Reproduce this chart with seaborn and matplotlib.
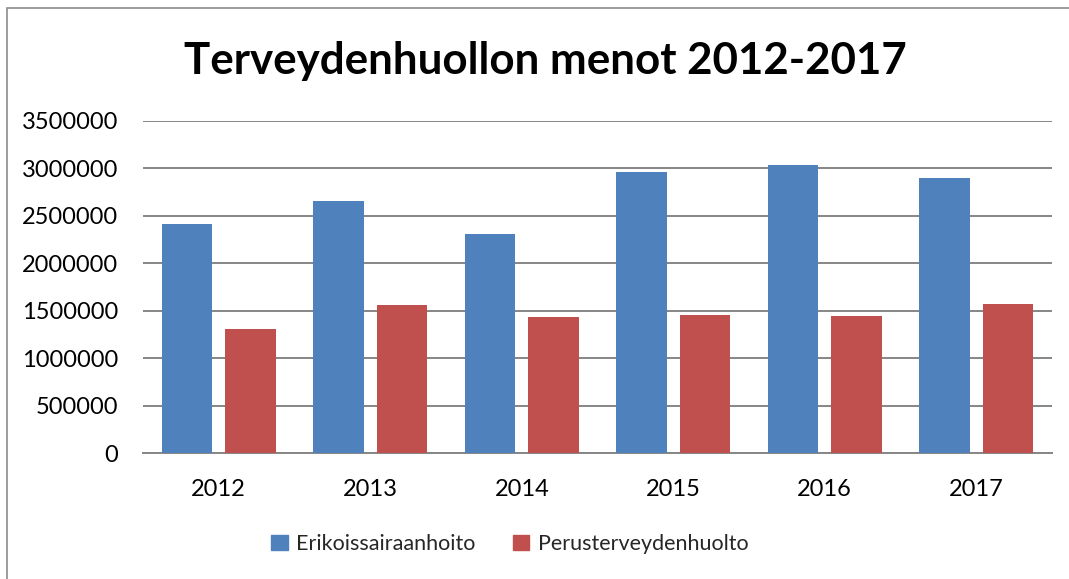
import matplotlib
matplotlib.use("Agg")
import matplotlib.pyplot as plt
import seaborn as sns
import pandas as pd
from matplotlib.patches import Rectangle

years = ["2012", "2013", "2014", "2015", "2016", "2017"]
erikois = [2410000, 2655000, 2305000, 2957000, 3038000, 2894000]
perus = [1306000, 1559000, 1433000, 1454000, 1443000, 1566000]
series_names = ["Erikoissairaanhoito", "Perusterveydenhuolto"]
yticks = [0, 500000, 1000000, 1500000, 2000000, 2500000, 3000000, 3500000]
title = "Terveydenhuollon menot 2012-2017"

df = pd.DataFrame({
    "year": years * 2,
    "value": erikois + perus,
    "series": [series_names[0]] * len(years) + [series_names[1]] * len(years),
})

sns.set_theme(style="white")
plt.rcParams["font.family"] = ["Lato", "DejaVu Sans"]

W, H = 1069, 579
fig = plt.figure(figsize=(W / 100, H / 100), dpi=100)
ax = fig.add_axes([143 / W, (H - 453) / H, 909 / W, (453 - 120.7) / H])

palette = {series_names[0]: "#4F81BD", series_names[1]: "#C0504D"}
sns.barplot(data=df, x="year", y="value", hue="series", palette=palette,
            width=0.838, gap=0.205, saturation=1, ax=ax, legend=False,
            edgecolor="none", zorder=3)

ax.set_ylim(0, 3500000)
ax.set_xlim(-0.5, len(years) - 0.5)
ax.set_yticks(yticks)
ax.set_yticklabels([str(v) for v in yticks])
ax.yaxis.grid(True, color="#868686", linewidth=1.4, zorder=0)
ax.set_axisbelow(True)
for s in ["left", "right", "top"]:
    ax.spines[s].set_visible(False)
ax.spines["bottom"].set_color("#868686")
ax.spines["bottom"].set_linewidth(1.4)
ax.tick_params(axis="y", length=0, pad=18, labelsize=17, labelcolor="black")
ax.tick_params(axis="x", length=0, pad=19, labelsize=17, labelcolor="black")
ax.set_xlabel("")
ax.set_ylabel("")

fig.text(545 / W, 1 - 61 / H, title, ha="center", va="center",
         fontsize=31.6, fontweight="bold", color="black")

handles = [Rectangle((0, 0), 1, 1, color=palette[n]) for n in series_names]
fig.legend(handles, series_names, loc="center", bbox_to_anchor=(510 / W, 1 - 544 / H),
           ncol=2, frameon=False, fontsize=15.5, handlelength=0.75, handleheight=0.75,
           handletextpad=0.4, columnspacing=1.75)

border = Rectangle((6.5 / W, -0.1), 1.2, 1.1 - 8.5 / H, transform=fig.transFigure,
                   fill=False, edgecolor="#8c8c8c", linewidth=1.2, clip_on=False)
fig.patches.append(border)

fig.savefig("out.png", dpi=100)
